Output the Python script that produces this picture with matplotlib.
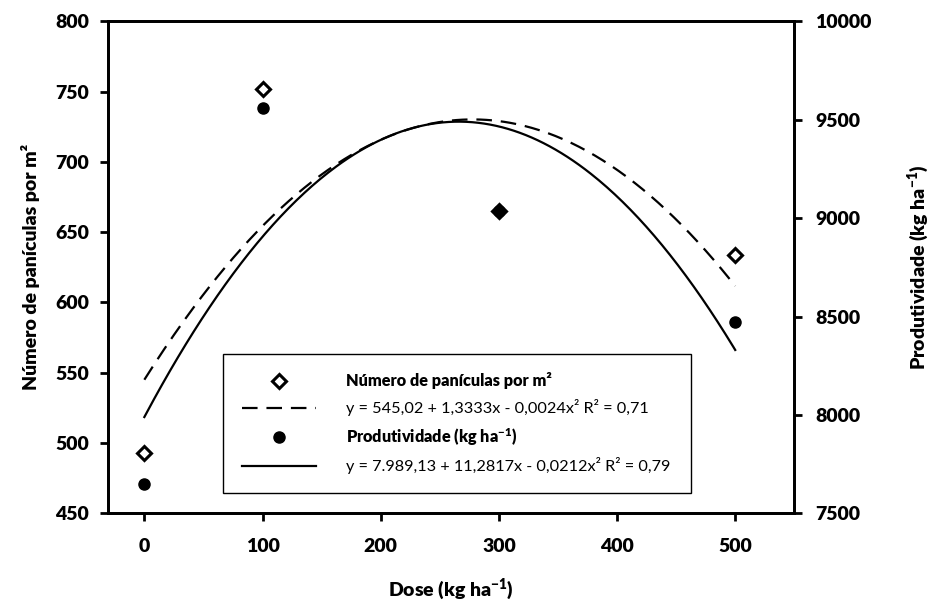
import matplotlib
matplotlib.use("Agg")
import matplotlib.pyplot as plt
from matplotlib.lines import Line2D
import numpy as np

plt.rcParams["font.family"] = ["Lato", "DejaVu Sans"]
plt.rcParams["font.weight"] = "bold"
plt.rcParams["axes.labelweight"] = "bold"
plt.rcParams["mathtext.default"] = "regular"

# observed values
dose = [0, 100, 300, 500]
paniculas = [493, 752, 665, 634]          # left axis
produtividade = [7650, 9560, 9036, 8470]  # right axis

# fitted quadratics from the legend: a + b*x + c*x^2
coef_paniculas = [545.02, 1.3333, -0.0024]
coef_produtividade = [7989.13, 11.2817, -0.0212]

x_ticks = [0, 100, 200, 300, 400, 500]
left_ticks = [450, 500, 550, 600, 650, 700, 750, 800]
right_ticks = [7500, 8000, 8500, 9000, 9500, 10000]

lbl_pan = "Número de panículas por m²"
lbl_prod = "Produtividade (kg ha$^{-1}$)"
eq_pan = "y = 545,02 + 1,3333x - 0,0024x² R² = 0,71"
eq_prod = "y = 7.989,13 + 11,2817x - 0,0212x² R² = 0,79"

x_fit = np.linspace(min(dose), max(dose), 300)
fit_pan = coef_paniculas[0] + coef_paniculas[1] * x_fit + coef_paniculas[2] * x_fit ** 2
fit_prod = coef_produtividade[0] + coef_produtividade[1] * x_fit + coef_produtividade[2] * x_fit ** 2

fig = plt.figure(figsize=(9.3, 6.06), dpi=100)
ax = fig.add_axes([108.3 / 930, (606 - 513.3) / 606, 686 / 930, 492 / 606])
ax2 = ax.twinx()

dash = (0, (7, 4))
ax.plot(x_fit, fit_pan, color="black", lw=1.6, ls=dash)
ax.plot(dose, paniculas, ls="none", marker="D", ms=7, mfc="white", mec="black", mew=2.2)
ax2.plot(x_fit, fit_prod, color="black", lw=1.6)
ax2.plot(dose, produtividade, ls="none", marker="o", ms=8, color="black")

ax.set_xlim(-30.5, 550)
ax.set_ylim(450, 800)
ax2.set_ylim(7500, 10000)
tick_font = dict(fontsize=14, fontweight="heavy")
ax.set_xticks(x_ticks, labels=[str(v) for v in x_ticks], **tick_font)
ax.set_yticks(left_ticks, labels=[str(v) for v in left_ticks], **tick_font)
ax2.set_yticks(right_ticks, labels=[str(v) for v in right_ticks], **tick_font)

for a in (ax, ax2):
    for s in a.spines.values():
        s.set_linewidth(2)
    a.tick_params(width=2, length=6, direction="out")
ax.tick_params(axis="y", pad=8)
ax.tick_params(axis="x", pad=12)
ax2.tick_params(axis="y", pad=9)

ax.set_xlabel("Dose (kg ha$^{-1}$)", fontsize=14, fontweight="heavy")
ax.set_ylabel(lbl_pan, fontsize=14, fontweight="heavy")
ax2.set_ylabel(lbl_prod, fontsize=14, fontweight="heavy")
ax.xaxis.set_label_coords(0.5, -0.128)
ax.yaxis.set_label_coords(-0.1, 0.5)
ax2.yaxis.set_label_coords(1.162, 0.5)

handles = [
    Line2D([], [], ls="none", marker="D", ms=7, mfc="white", mec="black", mew=2.2),
    Line2D([], [], color="black", lw=1.6, ls=dash),
    Line2D([], [], ls="none", marker="o", ms=8, color="black"),
    Line2D([], [], color="black", lw=1.6),
]
labels = [lbl_pan, eq_pan, lbl_prod, eq_prod]
leg = ax2.legend(handles, labels, loc="lower left",
                 bbox_to_anchor=(0.167, 0.041, 0.682, 0.287), mode="expand",
                 borderaxespad=0, fontsize=11.7, handlelength=4.6, handletextpad=1.8,
                 labelspacing=0.6, borderpad=1.15, fancybox=False, framealpha=1,
                 edgecolor="black", numpoints=1)
leg.get_frame().set_linewidth(1)
for i, t in enumerate(leg.get_texts()):
    t.set_fontweight("heavy" if i in (0, 2) else "normal")

fig.savefig("out.png", dpi=100)
